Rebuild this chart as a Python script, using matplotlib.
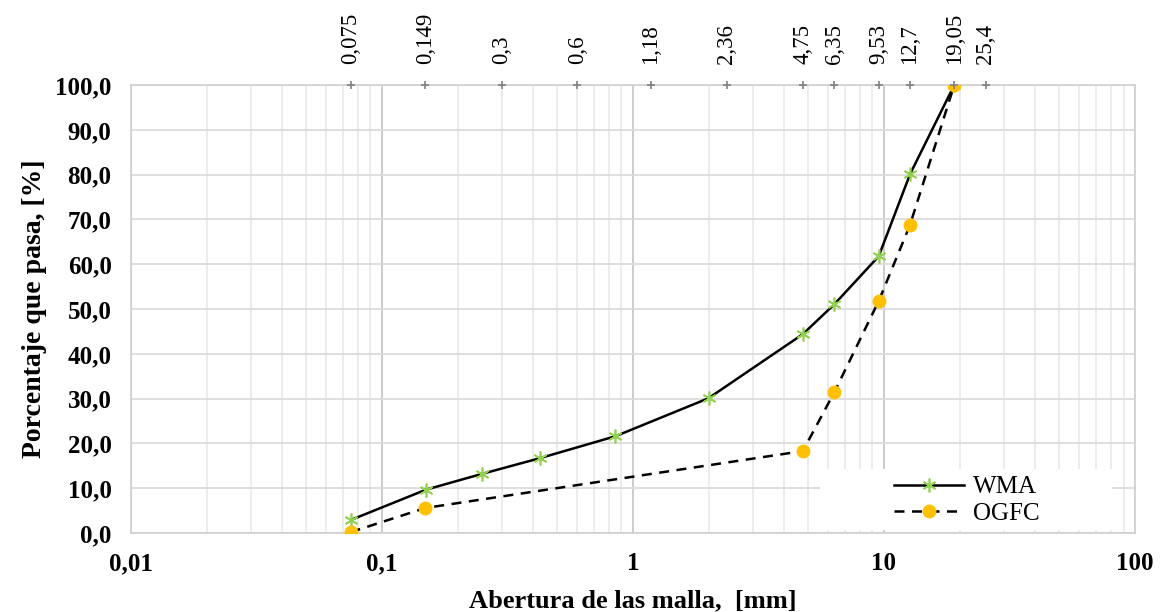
import matplotlib.pyplot as plt
import matplotlib.ticker as mticker
from matplotlib.patches import Rectangle
import numpy as np

plt.rcParams['font.family'] = ['Liberation Serif', 'DejaVu Serif']

# Granulometry data
wma_size = [0.075, 0.15, 0.25, 0.425, 0.85, 2.0, 4.75, 6.35, 9.53, 12.7, 19.05]
wma_pass = [2.9, 9.7, 13.2, 16.7, 21.6, 30.1, 44.4, 51.1, 61.8, 80.1, 100.0]

ogfc_size = [0.075, 0.149, 4.75, 6.35, 9.53, 12.7, 19.05]
ogfc_pass = [0.2, 5.6, 18.3, 31.5, 51.8, 68.8, 100.0]

# sieve sizes shown on top
sieves = [0.075, 0.149, 0.3, 0.6, 1.18, 2.36, 4.75, 6.35, 9.53, 12.7, 19.05, 25.4]
sieve_labels = ['0,075', '0,149', '0,3', '0,6', '1,18', '2,36', '4,75', '6,35',
                '9,53', '12,7', '19,05', '25,4']

x_ticks = [0.01, 0.1, 1, 10, 100]
x_tick_labels = ['0,01', '0,1', '1', '10', '100']
y_ticks = np.arange(0, 101, 10)

fig = plt.figure(figsize=(11.61, 6.12), dpi=100)
ax = fig.add_axes([0.1128, 0.129, 0.8648, 0.732])

ax.set_xscale('log')
ax.set_xlim(0.01, 100)
ax.set_ylim(0, 100)

# grid
ax.xaxis.set_major_locator(mticker.FixedLocator(x_ticks))
ax.xaxis.set_major_formatter(mticker.FixedFormatter(x_tick_labels))
ax.xaxis.set_minor_locator(mticker.LogLocator(base=10, subs=np.arange(2, 10)))
ax.xaxis.set_minor_formatter(mticker.NullFormatter())
ax.set_yticks(y_ticks)
ax.set_yticklabels([f'{v:.1f}'.replace('.', ',') for v in y_ticks])
ax.grid(which='major', axis='x', color='#c8c8c8', lw=1.3)
ax.grid(which='minor', axis='x', color='#ebebeb', lw=1.3)
ax.grid(which='major', axis='y', color='#dcdcdc', lw=1.3)
ax.set_axisbelow(True)
ax.tick_params(which='both', length=0, labelsize=18, pad=14)
for lbl in ax.get_xticklabels() + ax.get_yticklabels():
    lbl.set_fontweight('bold')
for sp in ax.spines.values():
    sp.set_color('#d0d0d0')
    sp.set_linewidth(1.2)

# legend backdrop
ax.add_patch(Rectangle((0.686, 0.006), 0.291, 0.136, transform=ax.transAxes,
                       facecolor='white', edgecolor='none', zorder=1.5))

ax.plot(wma_size, wma_pass, color='black', lw=1.8, marker=(6, 2, 0), ms=10,
        mec='#92d050', mfc='#92d050', mew=1.2, label='WMA', zorder=3)
ax.plot(ogfc_size, ogfc_pass, color='black', lw=1.8, ls=(0, (4, 3)), marker='o',
        ms=9, mec='#ffc000', mfc='#ffc000', label='OGFC', zorder=3)

# sieve markers and labels on top
ax.plot(sieves, [100] * len(sieves), ls='none', marker='+', ms=6, mew=1.2,
        color='#808080', clip_on=False, zorder=4)
for s, t in zip(sieves, sieve_labels):
    ax.annotate(t, xy=(s, 100), xytext=(0, 15), textcoords='offset points',
                rotation=90, ha='center', va='bottom', fontsize=16.5)

leg = ax.legend(loc='center left', bbox_to_anchor=(0.760, 0.073), frameon=False,
                fontsize=18, handlelength=2.8, handletextpad=0.35,
                labelspacing=0.15, borderaxespad=0, borderpad=0)

ax.set_xlabel('Abertura de las malla,  [mm]', fontsize=19, fontweight='bold', labelpad=10)
ax.set_ylabel('Porcentaje que pasa, [%]', fontsize=20, fontweight='bold', labelpad=6)

fig.savefig('out.png', dpi=100)
